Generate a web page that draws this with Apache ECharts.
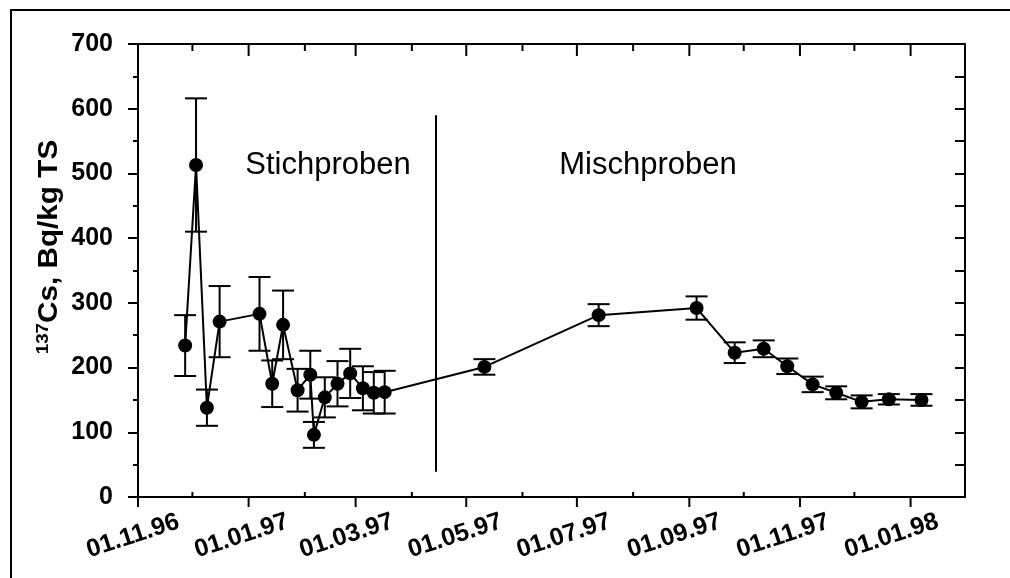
<!DOCTYPE html>
<html>
<head>
<meta charset="utf-8">
<script src="https://cdn.jsdelivr.net/npm/echarts@6/dist/echarts.min.js"></script>
<style>
  html, body { margin: 0; padding: 0; background: #fff; }
  #chart { width: 1010px; height: 578px; }
</style>
</head>
<body>
<div id="chart"></div>
<script>
// Sampling dates of the 137Cs measurements
const sampleDates = [
  '1996-11-27', '1996-12-03', '1996-12-09', '1996-12-16',
  '1997-01-07', '1997-01-14', '1997-01-20', '1997-01-28',
  '1997-02-04', '1997-02-06', '1997-02-12', '1997-02-19',
  '1997-02-26', '1997-03-05', '1997-03-11', '1997-03-17',
  '1997-05-11', '1997-07-13', '1997-09-05', '1997-09-26',
  '1997-10-12', '1997-10-25', '1997-11-08', '1997-11-21',
  '1997-12-05', '1997-12-20', '1998-01-07'
];
// Activity, Bq/kg TS
const cs137 = [
  234, 513, 138, 271,
  283, 175, 266, 165,
  189, 96, 154, 175,
  191, 168, 161, 162,
  201, 281, 292, 223,
  229, 202, 174, 161,
  147, 151, 150
];
// Uncertainty (+/-), Bq/kg TS
const cs137Err = [
  47, 103, 28, 55,
  57, 36, 53, 33,
  37, 20, 31, 35,
  38, 34, 32, 33,
  12, 17, 18, 16,
  13, 12, 12, 10,
  10, 8, 9
];

// Time axis
const axisStart = '1996-11-01';
const axisEnd = '1998-01-31';
const majorTickDates = ['1996-11-01', '1997-01-01', '1997-03-01', '1997-05-01',
                        '1997-07-01', '1997-09-01', '1997-11-01', '1998-01-01'];
const majorTickLabels = ['01.11.96', '01.01.97', '01.03.97', '01.05.97',
                         '01.07.97', '01.09.97', '01.11.97', '01.01.98'];
const minorTickDates = ['1996-12-01', '1997-02-01', '1997-04-01', '1997-06-01',
                        '1997-08-01', '1997-10-01', '1997-12-01'];

// Value axis
const yMin = 0;
const yMax = 700;
const yStep = 100;

// Boundary between single grab samples and composite samples
const dividerDate = '1997-04-14';
const dividerSpan = [39, 590];
const phaseLabels = ['Stichproben', 'Mischproben'];

const ts = s => { const [y, m, d] = s.split('-').map(Number); return Date.UTC(y, m - 1, d); };

const BOLD = 'bold 25px "Liberation Sans", Arial, sans-serif';
const INK = '#000';

const pointData = sampleDates.map((d, i) => [ts(d), cs137[i]]);
const errData = sampleDates.map((d, i) => [ts(d), cs137[i], cs137Err[i]]);
const tickData = majorTickDates.map((d, i) => [ts(d), yMin, 1, i])
  .concat(minorTickDates.map(d => [ts(d), yMin, 0, -1]));

const chart = echarts.init(document.getElementById('chart'), null, { renderer: 'canvas' });

chart.setOption({
  animation: false,
  useUTC: true,
  backgroundColor: '#fff',
  grid: { left: 138, right: 45, top: 44, bottom: 81, containLabel: false },
  xAxis: [
    {
      type: 'time', position: 'bottom', min: ts(axisStart), max: ts(axisEnd),
      axisLine: { show: true, onZero: false, lineStyle: { color: INK, width: 2 } },
      axisTick: { show: false }, axisLabel: { show: false }, splitLine: { show: false }
    },
    {
      type: 'time', position: 'top', min: ts(axisStart), max: ts(axisEnd),
      axisLine: { show: true, onZero: false, lineStyle: { color: INK, width: 2 } },
      axisTick: { show: false }, axisLabel: { show: false }, splitLine: { show: false }
    }
  ],
  yAxis: [
    {
      type: 'value', position: 'left', min: yMin, max: yMax, interval: yStep,
      axisLine: { show: true, onZero: false, lineStyle: { color: INK, width: 2 } },
      axisTick: { show: true, inside: false, length: 10, lineStyle: { color: INK, width: 2 } },
      minorTick: { show: true, splitNumber: 2, length: 5, lineStyle: { color: INK, width: 2 } },
      axisLabel: { show: true, margin: 25, color: INK, fontSize: 25, fontWeight: 'bold',
                   fontFamily: '"Liberation Sans", Arial, sans-serif' },
      splitLine: { show: false }
    },
    {
      type: 'value', position: 'right', min: yMin, max: yMax, interval: yStep,
      axisLine: { show: true, onZero: false, lineStyle: { color: INK, width: 2 } },
      axisTick: { show: true, inside: true, length: 10, lineStyle: { color: INK, width: 2 } },
      minorTick: { show: true, splitNumber: 2, length: 10, lineStyle: { color: INK, width: 2 } },
      axisLabel: { show: false },
      splitLine: { show: false }
    }
  ],
  graphic: [
    {
      type: 'rect', silent: true, z: 0,
      shape: { x: 11, y: 10, width: 1200, height: 800 },
      style: { fill: 'none', stroke: INK, lineWidth: 2 }
    },
    {
      type: 'text', silent: true, x: 50, y: 247, rotation: Math.PI / 2, scaleX: 1.1,
      style: {
        text: '{s|137}{m|Cs, Bq/kg TS}',
        textAlign: 'center', textVerticalAlign: 'middle', align: 'center', verticalAlign: 'middle',
        fill: INK,
        rich: {
          s: { fontSize: 17, fontWeight: 'bold', fontFamily: '"Liberation Sans", Arial, sans-serif',
               fill: INK, verticalAlign: 'top', lineHeight: 30 },
          m: { fontSize: 27, fontWeight: 'bold', fontFamily: '"Liberation Sans", Arial, sans-serif',
               fill: INK, lineHeight: 30 }
        }
      }
    },
    {
      type: 'text', silent: true, x: 328, y: 165,
      style: { text: phaseLabels[0], font: '31px "Liberation Sans", Arial, sans-serif', fill: INK,
               textAlign: 'center', textVerticalAlign: 'middle', align: 'center', verticalAlign: 'middle' }
    },
    {
      type: 'text', silent: true, x: 648, y: 165,
      style: { text: phaseLabels[1], font: '31px "Liberation Sans", Arial, sans-serif', fill: INK,
               textAlign: 'center', textVerticalAlign: 'middle', align: 'center', verticalAlign: 'middle' }
    }
  ],
  series: [
    {
      // monthly ticks on bottom and top, with date labels under the bottom axis
      type: 'custom', name: 'ticks', silent: true, clip: false, z: 5,
      data: tickData,
      renderItem(params, api) {
        const x = api.value(0);
        const major = api.value(2) === 1;
        const idx = api.value(3);
        const b = api.coord([x, yMin]);
        const t = api.coord([x, yMax]);
        const st = { stroke: INK, lineWidth: 2 };
        const children = [
          { type: 'line', shape: { x1: b[0], y1: b[1], x2: b[0], y2: major ? b[1] + 10 : b[1] - 5 }, style: st },
          { type: 'line', shape: { x1: t[0], y1: t[1], x2: t[0], y2: t[1] + (major ? 12 : 7) }, style: st }
        ];
        if (major) {
          children.push({
            type: 'text', x: b[0] - 5 - 2 * idx, y: b[1] + 39, rotation: 18 * Math.PI / 180,
            style: { text: majorTickLabels[idx], font: BOLD, fill: INK,
                     textAlign: 'center', textVerticalAlign: 'middle', align: 'center', verticalAlign: 'middle' }
          });
        }
        return { type: 'group', children };
      }
    },
    {
      // error bars with caps
      type: 'custom', name: 'error', silent: true, z: 3,
      data: errData,
      renderItem(params, api) {
        const x = api.value(0), v = api.value(1), e = api.value(2);
        const hi = api.coord([x, v + e]);
        const lo = api.coord([x, v - e]);
        const hw = 11;
        const st = { stroke: INK, lineWidth: 2 };
        return {
          type: 'group',
          children: [
            { type: 'line', shape: { x1: hi[0], y1: hi[1], x2: lo[0], y2: lo[1] }, style: st },
            { type: 'line', shape: { x1: hi[0] - hw, y1: hi[1], x2: hi[0] + hw, y2: hi[1] }, style: st },
            { type: 'line', shape: { x1: lo[0] - hw, y1: lo[1], x2: lo[0] + hw, y2: lo[1] }, style: st }
          ]
        };
      }
    },
    {
      type: 'line', name: '137Cs', z: 4,
      data: pointData,
      symbol: 'circle', symbolSize: 14,
      itemStyle: { color: INK },
      lineStyle: { color: INK, width: 2 },
      markLine: {
        silent: true, symbol: ['none', 'none'], label: { show: false },
        lineStyle: { color: INK, width: 2, type: 'solid' },
        data: [[{ coord: [ts(dividerDate), dividerSpan[0]] }, { coord: [ts(dividerDate), dividerSpan[1]] }]]
      }
    }
  ]
});
</script>
</body>
</html>
